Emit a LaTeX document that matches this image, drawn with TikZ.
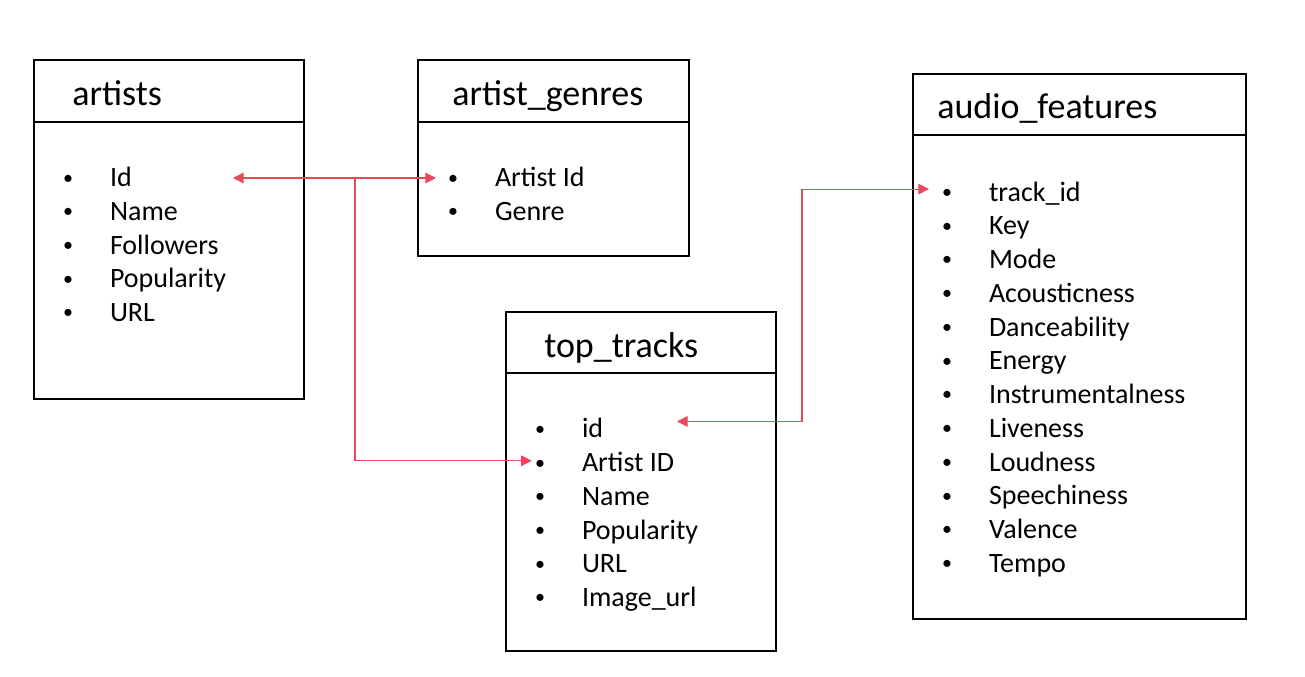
\documentclass[tikz,border=0pt]{standalone}
\usepackage{fontspec}
\setmainfont{Carlito}
\usepackage{tikz}
\usetikzlibrary{arrows.meta}
\usetikzlibrary{positioning}
\definecolor{linkred}{RGB}{232,72,92}
\newcommand{\fieldbullet}{\llap{\makebox[10pt]{\raisebox{2pt}{\fontsize{15}{15}\selectfont\textbullet}}\hspace{26.5pt}}}
\tikzset{
    tablebox/.style={
           rectangle,
           draw=black, line width=1.5pt,
           anchor=north west,
           inner sep=0pt,
           },
    rule/.style={
           draw=black, line width=1.5pt,
           },
    tabletitle/.style={
           anchor=base west,
           inner sep=0pt,
           font=\fontsize{27}{32}\selectfont,
           },
    field/.style={
           inner sep=0pt, outer sep=0pt,
           anchor=west,
           text height=15pt, text depth=5pt,
           font=\fontsize{21}{25}\selectfont,
           execute at begin node=\fieldbullet,
           },
    link/.style={
           draw=linkred, line width=0.8pt,
           },
}

\begin{document}
\begin{tikzpicture}[>={Triangle[length=8pt,width=8pt]}, x=0.75pt, y=-0.75pt]
        \useasboundingbox (0,0) rectangle (1305,676);
        % artists
        \node[tablebox, minimum width=202.5pt, minimum height=254.25pt] (art) at (33,59) {};
        \draw[rule] ([yshift=-47.25pt]art.north west) -- ([yshift=-47.25pt]art.north east);
        \node[tabletitle] (artT) at (72,105) {artists};
        \node[field] (art1) at (110,180) {Id};
        \node[field, below=5.3pt of art1.south west, anchor=north west] (art2) {Name};
        \node[field, below=5.3pt of art2.south west, anchor=north west] (art3) {Followers};
        \node[field, below=5.3pt of art3.south west, anchor=north west] (art4) {Popularity};
        \node[field, below=5.3pt of art4.south west, anchor=north west] (art5) {URL};
        % artist_genres
        \node[tablebox, minimum width=203.25pt, minimum height=147pt] (gen) at (417,59) {};
        \draw[rule] ([yshift=-47.25pt]gen.north west) -- ([yshift=-47.25pt]gen.north east);
        \node[tabletitle] (genT) at (452,105) {artist\_genres};
        \node[field] (gen1) at (495,180) {Artist Id};
        \node[field, below=5.3pt of gen1.south west, anchor=north west] (gen2) {Genre};
        % top_tracks
        \node[tablebox, minimum width=202.5pt, minimum height=254.25pt] (top) at (505,311) {};
        \draw[rule] ([yshift=-46.5pt]top.north west) -- ([yshift=-46.5pt]top.north east);
        \node[tabletitle] (topT) at (544,357) {top\_tracks};
        \node[field] (top1) at (582,431.3) {id};
        \node[field, below=5.3pt of top1.south west, anchor=north west] (top2) {Artist ID};
        \node[field, below=5.3pt of top2.south west, anchor=north west] (top3) {Name};
        \node[field, below=5.3pt of top3.south west, anchor=north west] (top4) {Popularity};
        \node[field, below=5.3pt of top4.south west, anchor=north west] (top5) {URL};
        \node[field, below=5.3pt of top5.south west, anchor=north west] (top6) {Image\_url};
        % audio_features
        \node[tablebox, minimum width=249.75pt, minimum height=408.75pt] (aud) at (912,73) {};
        \draw[rule] ([yshift=-46.5pt]aud.north west) -- ([yshift=-46.5pt]aud.north east);
        \node[tabletitle] (audT) at (937,118.3) {audio\_features};
        \node[field] (aud1) at (989,194.5) {track\_id};
        \node[field, below=5.3pt of aud1.south west, anchor=north west] (aud2) {Key};
        \node[field, below=5.3pt of aud2.south west, anchor=north west] (aud3) {Mode};
        \node[field, below=5.3pt of aud3.south west, anchor=north west] (aud4) {Acousticness};
        \node[field, below=5.3pt of aud4.south west, anchor=north west] (aud5) {Danceability};
        \node[field, below=5.3pt of aud5.south west, anchor=north west] (aud6) {Energy};
        \node[field, below=5.3pt of aud6.south west, anchor=north west] (aud7) {Instrumentalness};
        \node[field, below=5.3pt of aud7.south west, anchor=north west] (aud8) {Liveness};
        \node[field, below=5.3pt of aud8.south west, anchor=north west] (aud9) {Loudness};
        \node[field, below=5.3pt of aud9.south west, anchor=north west] (aud10) {Speechiness};
        \node[field, below=5.3pt of aud10.south west, anchor=north west] (aud11) {Valence};
        \node[field, below=5.3pt of aud11.south west, anchor=north west] (aud12) {Tempo};

        % links
        \coordinate (artTip) at ([xshift=92.25pt, yshift=1.5pt]art1.west);
        \coordinate (genTip) at ([xshift=-44.25pt, yshift=1.5pt]gen1.west);
        \coordinate (split) at ([xshift=91.5pt]artTip);
        \coordinate (topTip) at ([xshift=-37.7pt, yshift=3.2pt]top2.west);
        \coordinate (idTip) at ([xshift=71.25pt, yshift=7.4pt]top1.west);
        \coordinate (audTip) at ([xshift=-45pt, yshift=4.1pt]aud1.west);
        \coordinate (bend) at ([xshift=-95.25pt]audTip);
        \draw[link, <->] (artTip) -- (genTip);
        \draw[link, ->] (split) |- (topTip);
        \draw[link, <->] (idTip) -| (bend) -- (audTip);
    \end{tikzpicture}
\end{document}
